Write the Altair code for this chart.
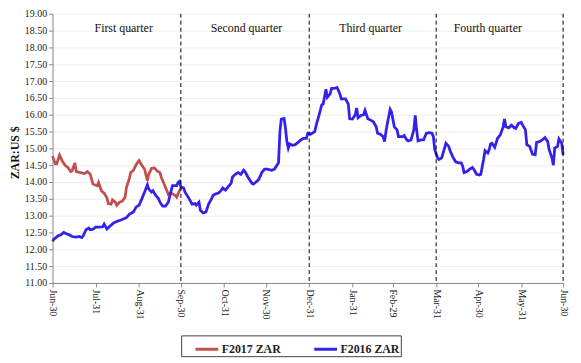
import altair as alt
import pandas as pd

# Days after 30 June on a shared fiscal-year axis
f2017_day = [0, 2, 3, 5, 7, 9, 11, 13, 14, 16, 17, 20, 23, 25, 27, 29, 32, 33, 35, 37,
             39, 40, 42, 43, 45, 46, 48, 50, 52, 53, 55, 56, 58, 60, 62, 64, 66, 68, 69, 71,
             73, 75, 77, 78, 80, 82, 83, 85, 88, 89, 91, 92]
f2017_zar = [14.77, 14.54, 14.54, 14.80, 14.62, 14.50, 14.43, 14.31, 14.33, 14.57, 14.31, 14.28,
             14.25, 14.31, 14.23, 13.94, 13.89, 13.99, 13.74, 13.67, 13.53, 13.36, 13.34, 13.47,
             13.40, 13.31, 13.40, 13.43, 13.55, 13.84, 14.09, 14.28, 14.35, 14.52, 14.64, 14.50,
             14.38, 14.04, 14.23, 14.41, 14.42, 14.33, 14.28, 14.13, 13.94, 13.74, 13.63, 13.67,
             13.60, 13.55, 13.74, 13.82]

f2016_day = [0, 1, 4, 6, 8, 10, 12, 14, 17, 19, 21, 22, 24, 26, 27, 29, 31, 33, 36, 37,
             39, 42, 44, 47, 49, 52, 53, 55, 58, 60, 62, 64, 66, 68, 69, 71, 72, 74, 76, 77,
             79, 81, 83, 85, 86, 89, 90, 91, 92, 94, 95, 98, 100, 102, 103, 105, 106, 108, 110, 112,
             114, 115, 117, 119, 121, 122, 124, 126, 128, 129, 131, 133, 135, 137, 138, 140, 143, 144, 147, 148,
             150, 152, 154, 157, 159, 162, 163, 164, 166, 167, 168, 169, 170, 172, 174, 176, 178, 180, 182, 183,
             185, 188, 189, 191, 193, 194, 196, 197, 199, 200, 202, 204, 206, 207, 210, 212, 213, 215, 217, 218,
             219, 221, 223, 224, 226, 228, 230, 232, 233, 235, 237, 238, 239, 240, 242, 243, 245, 247, 248, 251,
             252, 254, 255, 257, 259, 260, 261, 262, 264, 266, 268, 270, 272, 273, 274, 276, 277, 279, 281, 282,
             284, 285, 287, 289, 291, 293, 294, 295, 297, 299, 301, 302, 304, 306, 307, 309, 310, 312, 313, 314,
             315, 317, 319, 321, 323, 324, 325, 327, 329, 331, 332, 334, 336, 337, 339, 340, 342, 344, 346, 347,
             349, 351, 353, 355, 356, 358, 359, 360, 362, 363, 365, 366]
f2016_zar = [12.24, 12.30, 12.40, 12.43, 12.50, 12.46, 12.43, 12.38, 12.36, 12.38, 12.35, 12.40,
             12.58, 12.63, 12.58, 12.60, 12.66, 12.66, 12.67, 12.75, 12.60, 12.72, 12.79, 12.84,
             12.87, 12.92, 12.94, 13.04, 13.11, 13.26, 13.31, 13.50, 13.70, 13.92, 13.79, 13.70,
             13.74, 13.60, 13.50, 13.40, 13.28, 13.28, 13.40, 13.74, 13.89, 13.89, 13.99, 14.02,
             13.86, 13.82, 13.70, 13.50, 13.34, 13.36, 13.31, 13.40, 13.16, 13.08, 13.11, 13.36,
             13.50, 13.60, 13.65, 13.67, 13.76, 13.82, 13.76, 13.86, 13.96, 14.15, 14.23, 14.28,
             14.23, 14.35, 14.31, 14.15, 13.96, 13.94, 14.04, 14.09, 14.28, 14.38, 14.38, 14.35,
             14.38, 14.57, 15.50, 15.87, 15.89, 15.59, 15.20, 15.01, 15.13, 15.09, 15.11, 15.18,
             15.25, 15.30, 15.30, 15.45, 15.42, 15.50, 15.69, 15.98, 16.30, 16.32, 16.76, 16.52,
             16.62, 16.78, 16.78, 16.81, 16.62, 16.47, 16.47, 16.32, 15.88, 15.87, 16.00, 16.20,
             15.91, 15.98, 16.00, 16.13, 15.88, 15.84, 15.79, 15.64, 15.45, 15.42, 15.35, 15.20,
             15.50, 15.74, 16.16, 16.08, 15.64, 15.55, 15.35, 15.35, 15.38, 15.25, 15.22, 15.25,
             15.55, 15.98, 15.55, 15.22, 15.25, 15.25, 15.45, 15.47, 15.45, 15.35, 14.96, 14.72,
             14.67, 14.72, 15.01, 15.15, 15.06, 14.93, 14.74, 14.60, 14.57, 14.57, 14.47, 14.28,
             14.31, 14.38, 14.43, 14.38, 14.23, 14.21, 14.23, 14.67, 14.93, 14.86, 14.96, 15.13,
             15.15, 15.03, 15.30, 15.40, 15.64, 15.87, 15.64, 15.61, 15.69, 15.61, 15.59, 15.74,
             15.77, 15.69, 15.55, 15.11, 15.06, 14.83, 14.81, 15.18, 15.20, 15.25, 15.32, 15.20,
             14.96, 14.72, 14.50, 15.01, 15.06, 15.28, 15.15, 14.81]

tick_days = [0, 31, 62, 92, 123, 153, 184, 215, 244, 275, 305, 336, 366]
tick_labels = ["Jun-30", "Jul-31", "Aug-31", "Sep-30", "Oct-31", "Nov-30", "Dec-31",
               "Jan-31", "Feb-29", "Mar-31", "Apr-30", "May-31", "Jun-30"]
y_ticks = [11.0, 11.5, 12.0, 12.5, 13.0, 13.5, 14.0, 14.5, 15.0, 15.5, 16.0, 16.5,
           17.0, 17.5, 18.0, 18.5, 19.0]
quarter_end_days = [92, 184, 275, 366]
quarter_names = ["First quarter", "Second quarter", "Third quarter", "Fourth quarter"]
quarter_label_days = [51, 139, 228, 312]
quarter_label_y = [18.58, 18.58, 18.58, 18.58]

series_names = ["F2017 ZAR", "F2016 ZAR"]
series_colors = ["#C0504D", "#3322EE"]

FONT = "Liberation Serif"

df17 = pd.DataFrame({"day": f2017_day, "zar": f2017_zar, "series": series_names[0]})
df16 = pd.DataFrame({"day": f2016_day, "zar": f2016_zar, "series": series_names[1]})
qdf = pd.DataFrame({"day": quarter_end_days})
tdf = pd.DataFrame({"day": quarter_label_days, "zar": quarter_label_y, "name": quarter_names})

label_expr = "[" + ",".join(f"'{t}'" for t in tick_labels) + "][indexof([" + \
    ",".join(str(d) for d in tick_days) + "], datum.value)]"

x_scale = alt.Scale(domain=[0, 366], nice=False, zero=False)
y_scale = alt.Scale(domain=[11, 19], nice=False, zero=False)

color = alt.Color(
    "series:N",
    scale=alt.Scale(domain=series_names, range=series_colors),
    legend=alt.Legend(
        title=None, orient="none", direction="horizontal",
        legendX=130, legendY=325,
        symbolType="stroke", symbolSize=529, symbolStrokeWidth=3, symbolOffset=12,
        labelFont=FONT, labelFontSize=12, labelFontWeight="bold", labelColor="#222",
        strokeColor="#444", padding=1, columnPadding=20, labelOffset=2,
    ),
)

x_enc = alt.X(
    "day:Q", scale=x_scale, title=None,
    axis=alt.Axis(values=tick_days, labelExpr=label_expr, labelAngle=90, labelAlign="left",
                  labelBaseline="middle", labelFont=FONT, labelFontSize=10, labelColor="#222",
                  labelOverlap=False,
                  grid=False, domainColor="#888", tickColor="#888", tickSize=4),
)
y_enc = alt.Y(
    "zar:Q", scale=y_scale,
    axis=alt.Axis(values=y_ticks, format=".2f", title="ZAR:US $",
                  labelFont=FONT, labelFontSize=10, labelColor="#222", labelOverlap=False,
                  titleFont=FONT, titleFontSize=12, titleFontWeight="bold", titleColor="#111",
                  titleX=-38, titleY=140, titleAngle=-90, titleAlign="center", titleBaseline="middle",
                  grid=True, gridColor="#eeeeee", domainColor="#888", tickColor="#888", tickSize=4),
)

red = alt.Chart(df17).mark_line(strokeWidth=2.8).encode(x=x_enc, y=y_enc, color=color)
blue = alt.Chart(df16).mark_line(strokeWidth=2.8).encode(x=x_enc, y=y_enc, color=color)

rules = alt.Chart(qdf).mark_rule(color="black", strokeDash=[4, 3], strokeWidth=1).encode(x=x_enc)

texts = alt.Chart(tdf).mark_text(font=FONT, fontSize=12, color="#111", baseline="middle").encode(
    x=x_enc, y=y_enc, text="name:N")

chart = alt.layer(red, blue, rules, texts).properties(
    width=516, height=272,
    autosize=alt.AutoSizeParams(type="none"),
    padding={"left": 45, "top": 4, "right": 10, "bottom": 75},
).configure_view(stroke=None).configure_axisY(labelOverlap=False)

chart.save("out.html", embed_options={"renderer": "svg", "actions": False})
